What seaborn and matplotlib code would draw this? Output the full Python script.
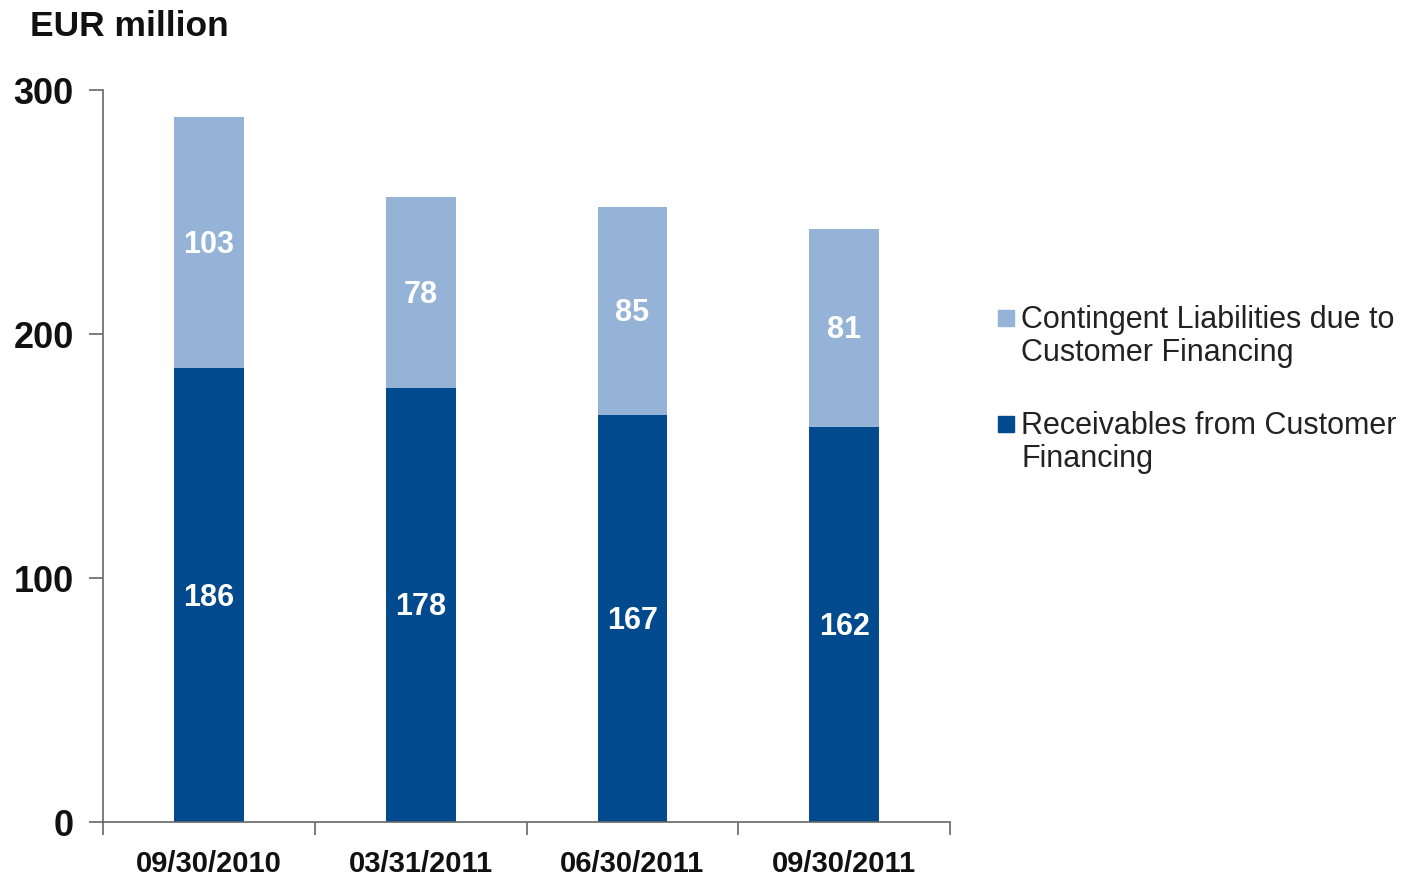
import numpy as np
import pandas as pd
import seaborn as sns
import matplotlib.pyplot as plt
from matplotlib.patches import Rectangle

dates = ["09/30/2010", "03/31/2011", "06/30/2011", "09/30/2011"]
receivables = [186, 178, 167, 162]
contingent = [103, 78, 85, 81]
legend_labels = ["Contingent Liabilities due to\nCustomer Financing",
                 "Receivables from Customer\nFinancing"]

dark = "#004a8d"
light = "#95b3d7"

sns.set_style("white")
plt.rcParams['font.family'] = ['Liberation Sans', 'DejaVu Sans']

df = pd.DataFrame({"date": dates, "rec": receivables, "cont": contingent})
df["total"] = df["rec"] + df["cont"]

fig = plt.figure(figsize=(14.04, 8.76), dpi=100)
ax = fig.add_axes([0.0734, 0.0616, 0.6033, 0.8356])

sns.barplot(data=df, x="date", y="total", color=light, width=0.33, ax=ax,
            saturation=1, linewidth=0)
sns.barplot(data=df, x="date", y="rec", color=dark, width=0.33, ax=ax,
            saturation=1, linewidth=0)

for i, (r, c) in enumerate(zip(receivables, contingent)):
    ax.text(i, r / 2 - 1, str(r), ha="center", va="center", color="white",
            fontsize=22, fontweight="bold")
    ax.text(i, r + c / 2 - 1, str(c), ha="center", va="center", color="white",
            fontsize=22, fontweight="bold")

ax.set_xlim(-0.5, 3.5)
ax.set_ylim(0, 300)
ax.set_yticks([0, 100, 200, 300])
ax.set_xticks([-0.5, 0.5, 1.5, 2.5, 3.5], minor=True)
ax.tick_params(axis="x", which="major", bottom=False, length=0, pad=20, labelsize=21)
ax.tick_params(axis="x", which="minor", bottom=True, length=9, direction="out",
               width=1.2, color="#666666")
ax.tick_params(axis="y", left=True, length=10, direction="out", width=1.2,
               color="#666666", labelsize=26, pad=11)
for lab in ax.get_xticklabels() + ax.get_yticklabels():
    lab.set_fontweight("bold")
    lab.set_color("#111111")
ax.set_xlabel("")
ax.set_ylabel("")
sns.despine(ax=ax)
for s in ["left", "bottom"]:
    ax.spines[s].set_color("#666666")
    ax.spines[s].set_linewidth(1.2)

W, H = 1404, 876
fig.text(30 / W, 1 - 27 / H, "EUR million", fontsize=25.5, fontweight="bold",
         va="center", ha="left", color="#111111")

# legend: square marker aligned with the first text line
for k, (lab, col) in enumerate(zip(legend_labels, [light, dark])):
    ytop = 318 + k * 106
    fig.patches.append(Rectangle((998 / W, 1 - (ytop + 8) / H), 16 / W, 16 / H,
                                 transform=fig.transFigure, color=col))
    fig.text(1021 / W, 1 - (ytop - 13) / H, lab, fontsize=22, va="top", ha="left",
             color="#222222", linespacing=1.15)

fig.savefig("out.png", dpi=100)
